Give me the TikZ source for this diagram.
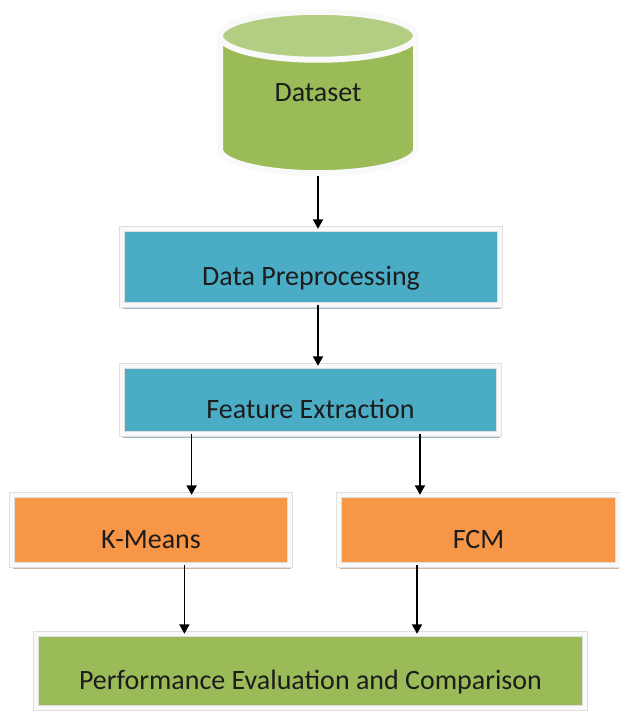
\documentclass[tikz,border=0pt]{standalone}
\usepackage{fontspec}
\setmainfont{Carlito}
\usetikzlibrary{arrows.meta, positioning, shapes.geometric, calc, shadows}
\definecolor{boxblue}{HTML}{4BACC6}
\definecolor{boxorange}{HTML}{F79646}
\definecolor{boxgreen}{HTML}{9BBB59}
\definecolor{topgreen}{HTML}{B3CD82}
\definecolor{txtdark}{HTML}{1C1C1C}

\tikzset{
  procbox/.style={rectangle, fill=#1, draw=gray!25, double=gray!5, double distance=3.6pt,
    line width=0.35pt, font=\fontsize{21}{25}\selectfont, text=txtdark,
    text height=28pt, text depth=0pt,
    drop shadow={shadow xshift=1pt, shadow yshift=-3pt, fill=#1!70!black, opacity=0.5}},
  flow/.style={-{Triangle[width=7.5pt, length=7pt]}, line width=1.2pt, black}
}

\begin{document}
\begin{tikzpicture}[x=0.75pt, y=-0.75pt]
\useasboundingbox (0,0) rectangle (619,711);

% dataset cylinder
\node[cylinder, shape border rotate=90, aspect=0.5, minimum width=147pt, minimum height=121pt,
  cylinder uses custom fill, cylinder body fill=boxgreen, cylinder end fill=topgreen,
  draw=gray!5, line width=4.5pt, font=\fontsize{21}{25}\selectfont, text=txtdark,
  text height=12pt, text depth=24pt, anchor=shape center]
  (data) at (318,92.5) {Dataset};

% process boxes
\node[procbox=boxblue, minimum width=283.5pt, minimum height=57pt] (prep) at (311,267) {Data Preprocessing};
\node[procbox=boxblue, minimum width=282.75pt, minimum height=51pt] (feat) at (310.5,400) {Feature Extraction};
\node[procbox=boxorange, minimum width=208.5pt, minimum height=52.5pt] (kmeans) at (151,530) {K-Means};
\node[procbox=boxorange, minimum width=209.25pt, minimum height=52.5pt] (fcm) at (478.5,530) {FCM};
\node[procbox=boxgreen, minimum width=411.75pt, minimum height=55.5pt] (perf) at (310.5,671) {Performance Evaluation and Comparison};

% connectors
\coordinate (f1) at ($(feat.south west)!0.185!(feat.south east)$);
\coordinate (f2) at ($(feat.south west)!0.79!(feat.south east)$);
\coordinate (k1) at ($(kmeans.south west)!0.62!(kmeans.south east)$);
\coordinate (c1) at ($(fcm.south west)!0.28!(fcm.south east)$);

\draw[flow] (data.south) -- (data.south |- prep.north);
\draw[flow] (prep.south -| data.south) -- (feat.north -| data.south);
\draw[flow] (f1) -- (f1 |- kmeans.north);
\draw[flow] (f2) -- (f2 |- fcm.north);
\draw[flow] (k1) -- (k1 |- perf.north);
\draw[flow] (c1) -- (c1 |- perf.north);
\end{tikzpicture}
\end{document}
